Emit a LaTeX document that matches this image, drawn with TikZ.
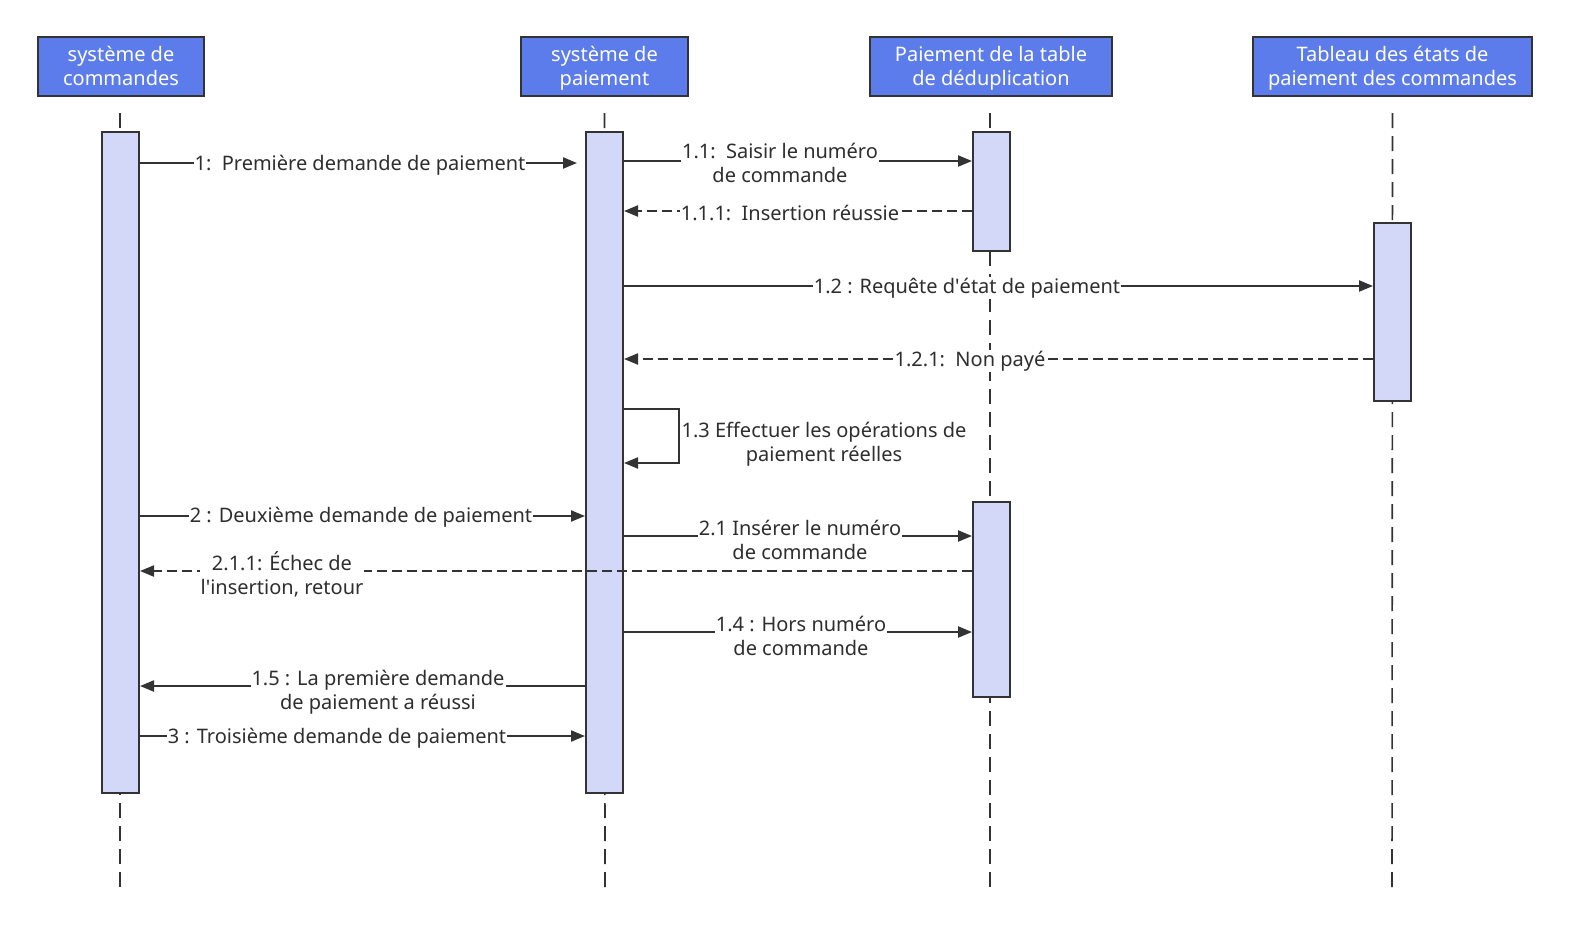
\documentclass[tikz,border=0pt]{standalone}
\usepackage{fontspec}
\setmainfont{Noto Sans}
\usetikzlibrary{arrows.meta}
\definecolor{hdr}{RGB}{91,124,234}
\definecolor{barfill}{RGB}{211,215,248}
\definecolor{ink}{RGB}{51,51,51}
\newcommand\lnstrut{\rule[-5pt]{0pt}{23.5pt}}
\begin{document}
\begin{tikzpicture}[x=1pt,y=-1pt,
  font=\fontsize{20}{24}\selectfont,
  hdrbox/.style={draw=ink, line width=2pt, fill=hdr, text=white, minimum height=59pt, align=center, inner sep=0pt},
  actbar/.style={draw=ink, line width=2pt, fill=barfill, minimum width=37pt, inner sep=0pt},
  lifeline/.style={draw=ink, line width=1.6pt, dash pattern=on 15pt off 8pt},
  msg/.style={draw=ink, line width=2.2pt, -{Triangle[length=14pt,width=11pt]}},
  ret/.style={msg, dash pattern=on 10pt off 5pt},
  lbl/.style={fill=white, inner sep=1pt, align=center, text=ink!90!black}]
\useasboundingbox (0,0) rectangle (1572,938);
% headers
\node[hdrbox, minimum width=166pt] (hA) at (121,66.5) {\lnstrut système de\\\lnstrut commandes};
\node[hdrbox, minimum width=167pt] (hB) at (604.5,66.5) {\lnstrut système de\\\lnstrut paiement};
\node[hdrbox, minimum width=242pt] (hC) at (991,66.5) {\lnstrut Paiement de la table\\\lnstrut de déduplication};
\node[hdrbox, minimum width=279pt] (hD) at (1392.5,66.5) {\lnstrut Tableau des états de\\\lnstrut paiement des commandes};
% lifeline ends
\coordinate (eA) at (120,893);
\coordinate (eB) at (605,893);
\coordinate (eC) at (990,890);
\coordinate (eD) at (1392,893);
\draw[lifeline] ([xshift=-1pt,yshift=-16pt]hA.south) -- (eA);
\draw[lifeline] ([yshift=-16pt]hB.south) -- (eB);
\draw[lifeline] ([xshift=-1pt,yshift=-16pt]hC.south) -- (eC);
\draw[lifeline] ([yshift=-16pt]hD.south) -- (eD);
% activation bars
\node[actbar, minimum height=661pt] (bA) at (120.5,462.5) {};
\node[actbar, minimum height=661pt] (bB) at (604.5,462.5) {};
\node[actbar, minimum height=119pt] (bC1) at (991.5,191.5) {};
\node[actbar, minimum height=195pt] (bC2) at (991.5,599.5) {};
\node[actbar, minimum height=178pt] (bD) at (1392.5,312) {};
% messages
\draw[msg] (bA.east |- 0,163) -- ([xshift=-8pt]bB.west |- 0,163);
\node[lbl] (l1) at (360,165) {1:\ \ Première demande de paiement};
\draw[msg] (bB.east |- 0,161) -- (bC1.west |- 0,161);
\node[lbl] (l11) at (780,164) {\lnstrut 1.1:\ \ Saisir le numéro\\\lnstrut de commande};
\draw[ret] (bC1.west |- 0,211) -- (bB.east |- 0,211);
\node[lbl] (l111) at (790,213) {1.1.1:\ \ Insertion réussie};
\draw[msg] (bB.east |- 0,286) -- (bD.west |- 0,286);
\node[lbl] (l12) at (967,288) {1.2 : Requête d\textquotesingle état de paiement};
\draw[ret] (bD.west |- 0,359) -- (bB.east |- 0,359);
\node[lbl] (l121) at (970,361) {1.2.1:\ \ Non payé};
\coordinate (s1) at (679,409);
\coordinate (s2) at (679,463);
\draw[msg] (bB.east |- s1) -- (s1) -- (s2) -- (bB.east |- s2);
\node[align=center, text=ink!90!black] (l13) at (824,442.5) {\lnstrut 1.3 Effectuer les opérations de\\\lnstrut paiement réelles};
\draw[msg] (bA.east |- 0,516) -- (bB.west |- 0,516);
\node[lbl] (l2) at (361,517) {2 : Deuxième demande de paiement};
\draw[msg] (bB.east |- 0,536) -- (bC2.west |- 0,536);
\node[lbl] (l21) at (800,541) {\lnstrut 2.1 Insérer le numéro\\\lnstrut de commande};
\draw[ret] (bC2.west |- 0,571) -- (bA.east |- 0,571);
\node[lbl] (l211) at (282,576) {\lnstrut 2.1.1: Échec de\\\lnstrut l\textquotesingle insertion, retour};
\draw[msg] (bB.east |- 0,632) -- (bC2.west |- 0,632);
\node[lbl] (l14) at (801,636.5) {\lnstrut 1.4 : Hors numéro\\\lnstrut de commande};
\draw[msg] (bB.west |- 0,686) -- (bA.east |- 0,686);
\node[lbl] (l15) at (378,691) {\lnstrut 1.5 : La première demande\\\lnstrut de paiement a réussi};
\draw[msg] (bA.east |- 0,736) -- (bB.west |- 0,736);
\node[lbl] (l3) at (337,738) {3 : Troisième demande de paiement};
\end{tikzpicture}
\end{document}
